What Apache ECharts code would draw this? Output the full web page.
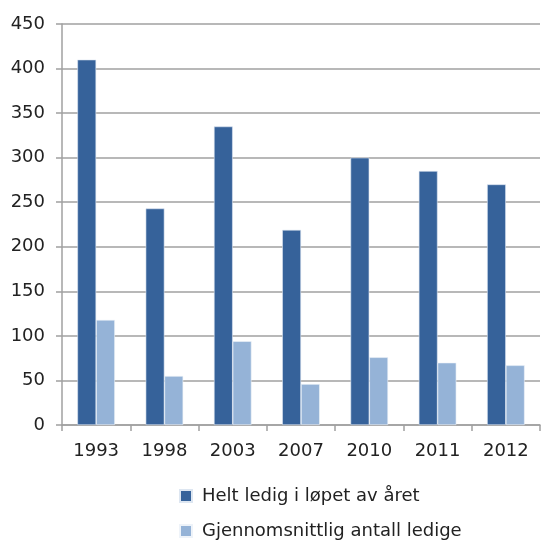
<!DOCTYPE html>
<html>
<head>
<meta charset="utf-8">
<script src="https://cdn.jsdelivr.net/npm/echarts@6/dist/echarts.min.js"></script>
<style>
  html, body { margin: 0; padding: 0; background: #fff; }
  #chart { width: 541px; height: 541px; }
</style>
</head>
<body>
<div id="chart"></div>
<script>
const years = ['1993', '1998', '2003', '2007', '2010', '2011', '2012'];
const heltLedig = [410, 243, 335, 219, 300, 285, 270];
const snittLedige = [118, 55, 94, 46, 76, 70, 67];
const seriesNames = ['Helt ledig i løpet av året', 'Gjennomsnittlig antall ledige'];

const chart = echarts.init(document.getElementById('chart'));

// one legend per row, stacked like the original
const legendBase = {
  left: 174,
  itemWidth: 12,
  itemHeight: 12,
  itemGap: 10,
  icon: 'rect',
  textStyle: { fontSize: 18, color: '#222', fontFamily: 'DejaVu Sans, sans-serif', padding: [0, 0, 0, 5] }
};

chart.setOption({
  backgroundColor: '#fff',
  animation: false,
  textStyle: { fontFamily: 'DejaVu Sans, sans-serif' },
  grid: { left: 62, right: 1, top: 24, bottom: 116 },
  legend: [
    Object.assign({}, legendBase, { top: 482, data: [seriesNames[0]] }),
    Object.assign({}, legendBase, { top: 517, data: [seriesNames[1]] })
  ],
  xAxis: {
    type: 'category',
    data: years,
    axisLine: { lineStyle: { color: '#a0a0a0', width: 1.5 } },
    axisTick: { show: true, length: 6, lineStyle: { color: '#a0a0a0', width: 1.5 } },
    axisLabel: { fontSize: 18, color: '#222', margin: 17 }
  },
  yAxis: {
    type: 'value',
    min: 0,
    max: 450,
    interval: 50,
    axisLine: { show: true, lineStyle: { color: '#a0a0a0', width: 1.5 } },
    axisTick: { show: true, length: 6, lineStyle: { color: '#a0a0a0', width: 1.5 } },
    splitLine: { lineStyle: { color: '#a0a0a0', width: 1.5 } },
    axisLabel: { fontSize: 18, color: '#222', margin: 17 }
  },
  series: [
    {
      name: seriesNames[0],
      type: 'bar',
      data: heltLedig,
      barGap: '0%',
      barCategoryGap: '45%',
      itemStyle: { color: '#36629a', borderColor: '#dde6f1', borderWidth: 0.6 }
    },
    {
      name: seriesNames[1],
      type: 'bar',
      data: snittLedige,
      itemStyle: { color: '#95b3d7', borderColor: '#eef3f9', borderWidth: 0.6 }
    }
  ]
});
</script>
</body>
</html>
